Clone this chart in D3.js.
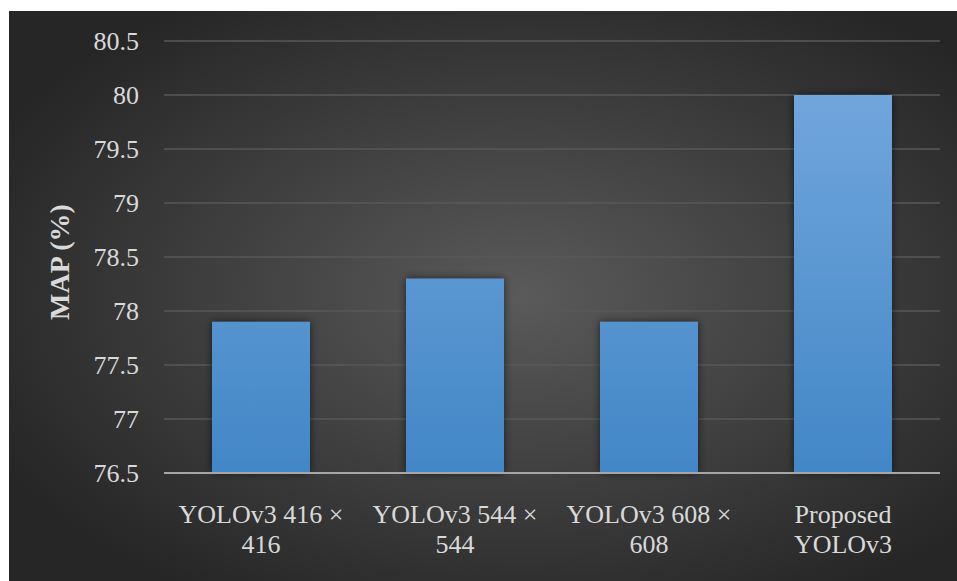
<!DOCTYPE html>
<html>
<head>
<meta charset="utf-8">
<script src="https://cdn.jsdelivr.net/npm/d3@7"></script>
<style>
html,body{margin:0;padding:0;background:#fff;}
svg{display:block;}
</style>
</head>
<body>
<svg id="chart" width="957" height="581"></svg>
<script>
const categories = [["YOLOv3 416 \u00d7","416"],["YOLOv3 544 \u00d7","544"],["YOLOv3 608 \u00d7","608"],["Proposed","YOLOv3"]];
const values = [77.9, 78.3, 77.9, 80.0];
const yTicks = [76.5, 77, 77.5, 78, 78.5, 79, 79.5, 80, 80.5];
const yTitle = "MAP (%)";

const FONT = "'Liberation Serif'";
const svg = d3.select("#chart");
const W = 957, H = 581;
const defs = svg.append("defs");

const bg = defs.append("radialGradient").attr("id","bg")
  .attr("cx","54%").attr("cy","50%").attr("r","62%")
  .attr("gradientUnits","objectBoundingBox");
bg.append("stop").attr("offset","0%").attr("stop-color","#5a5a5a");
bg.append("stop").attr("offset","100%").attr("stop-color","#262626");

const f = defs.append("filter").attr("id","shadow").attr("x","-20%").attr("y","-10%").attr("width","140%").attr("height","120%");
f.append("feGaussianBlur").attr("in","SourceAlpha").attr("stdDeviation",4).attr("result","b");
f.append("feComponentTransfer").attr("in","b").attr("result","o2")
  .append("feFuncA").attr("type","linear").attr("slope",0.6);
const fm = f.append("feMerge");
fm.append("feMergeNode").attr("in","o2");
fm.append("feMergeNode").attr("in","SourceGraphic");

svg.append("rect").attr("x",9).attr("y",11).attr("width",W-9).attr("height",H-11).attr("fill","url(#bg)");

const x0 = 164, x1 = 940, yTop = 41, yBot = 473;
const x = d3.scaleBand().domain(d3.range(categories.length)).range([x0,x1]).paddingInner(0.495).paddingOuter(0.2475);
const y = d3.scaleLinear().domain([76.5, 80.5]).range([yBot, yTop]);

const barG = defs.append("linearGradient").attr("id","barg")
  .attr("gradientUnits","userSpaceOnUse")
  .attr("x1",0).attr("x2",0).attr("y1", y(80.5)).attr("y2", yBot);
barG.append("stop").attr("offset","0%").attr("stop-color","#77aadf");
barG.append("stop").attr("offset","100%").attr("stop-color","#4287c7");

// gridlines
svg.append("g").selectAll("line").data(yTicks.filter(t=>t!==76.5)).join("line")
  .attr("x1",x0).attr("x2",x1).attr("y1",d=>y(d)).attr("y2",d=>y(d))
  .attr("stroke","#595959").attr("stroke-width",1.5);

// bars
svg.append("g").selectAll("rect").data(values).join("rect")
  .attr("x",(d,i)=>x(i)).attr("width",x.bandwidth())
  .attr("y",d=>y(d)).attr("height",d=>yBot-y(d))
  .attr("fill","url(#barg)").attr("filter","url(#shadow)");

// axis line
svg.append("line").attr("x1",x0).attr("x2",x1).attr("y1",yBot).attr("y2",yBot)
  .attr("stroke","#a6a6a6").attr("stroke-width",2);

// y tick labels
svg.append("g").selectAll("text").data(yTicks).join("text")
  .attr("x",139).attr("y",d=>y(d)).attr("dy","0.35em")
  .attr("text-anchor","end").attr("fill","#d9d9d9").attr("font-size",26)
  .style("font-family",FONT)
  .text(d=>d3.format("")(d));

// category labels
const cl = svg.append("g").selectAll("text").data(categories).join("text")
  .attr("text-anchor","middle").attr("fill","#d9d9d9").attr("font-size",26)
  .style("font-family",FONT)
  .attr("x",(d,i)=>x(i)+x.bandwidth()/2);
cl.selectAll("tspan").data(d=>d).join("tspan")
  .attr("x",function(){return this.parentNode.getAttribute("x");})
  .attr("y",(d,j)=>523+j*30).text(d=>d);

// y title
svg.append("text").attr("transform","translate(69,262) rotate(-90)")
  .attr("text-anchor","middle").attr("fill","#d9d9d9")
  .style("font-family",FONT)
  .attr("font-size",28).attr("font-weight","bold").text(yTitle);
</script>
</body>
</html>
